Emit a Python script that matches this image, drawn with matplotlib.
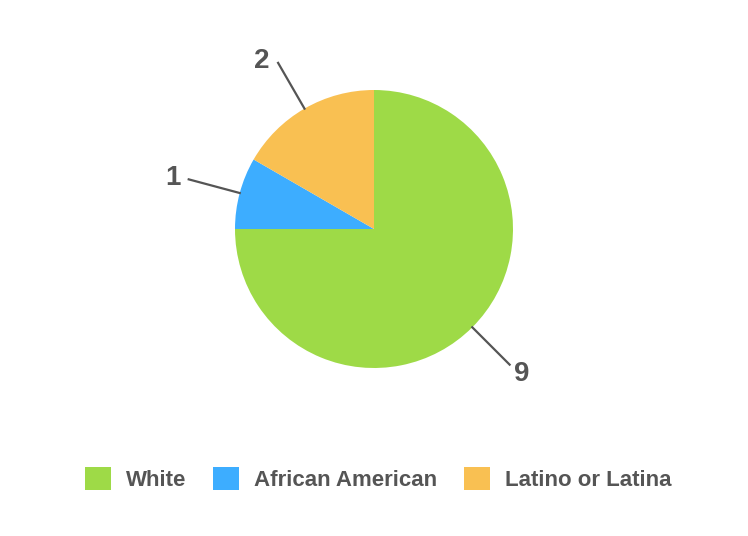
import numpy as np
import matplotlib
matplotlib.use("Agg")
import matplotlib.pyplot as plt

# datos
categorias = ["White", "African American", "Latino or Latina"]
valores = [9, 1, 2]
colores = ["#9EDA47", "#3DADFF", "#F9C052"]

plt.rcParams['font.family'] = ['Liberation Sans Narrow', 'Liberation Sans', 'DejaVu Sans']
plt.rcParams['font.weight'] = 'bold'
gris = "#555555"

fig = plt.figure(figsize=(7.48, 5.36), dpi=100)
W, H = 748, 536
cx, cy, r = 374, 229, 139
ax = fig.add_axes([(cx - r) / W, 1 - (cy + r) / H, 2 * r / W, 2 * r / H])

wedges, _ = ax.pie(valores, colors=colores, startangle=90, counterclock=False,
                   radius=1.0, wedgeprops=dict(linewidth=0))
ax.set_xlim(-1, 1)
ax.set_ylim(-1, 1)
ax.set_aspect('equal')
ax.axis('off')

## etiquetas con lineas
for w, v in zip(wedges, valores):
    ang = np.deg2rad((w.theta1 + w.theta2) / 2)
    x0, y0 = np.cos(ang), np.sin(ang)
    x1, y1 = 1.38 * x0, 1.38 * y0
    ax.plot([x0, x1], [y0, y1], color=gris, lw=1.6, clip_on=False)
    if x0 > 0:
        ax.text(x1 + 0.03, y1 - 0.07, str(v), ha='left', va='center',
                fontsize=20, color=gris, fontweight='bold')
    else:
        ax.text(x1 - 0.06, y1 + 0.01, str(v), ha='right', va='center',
                fontsize=20, color=gris, fontweight='bold')

## leyenda
leg = fig.legend(wedges, categorias, loc='center', bbox_to_anchor=(378 / W, 1 - 479 / H),
                 ncol=3, frameon=False, fontsize=16, handlelength=1.2, handleheight=1.2,
                 handletextpad=0.65, columnspacing=1.2, labelcolor=gris)
for t in leg.get_texts():
    t.set_fontweight('bold')

fig.savefig("out.png", dpi=100)
